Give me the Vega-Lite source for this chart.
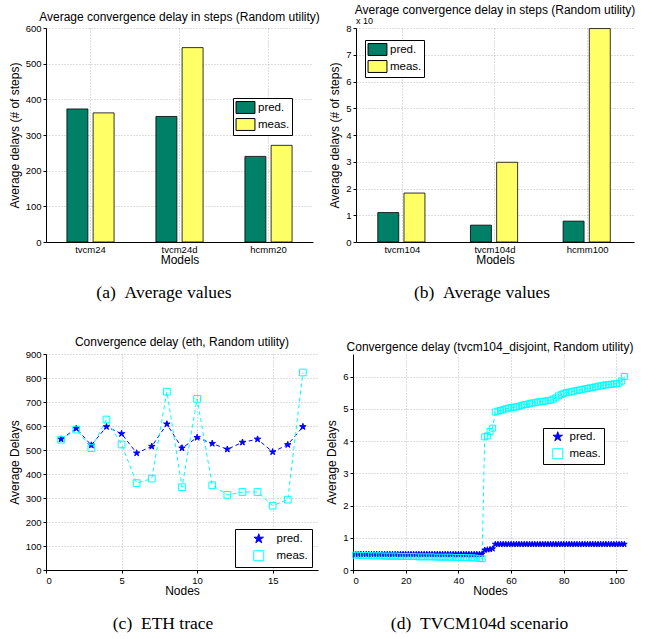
{
"$schema": "https://vega.github.io/schema/vega-lite/v6.json",
"background": "white",
"padding": {"left": 8, "top": 4, "right": 4, "bottom": 2},
"config": {
  "font": "Liberation Sans",
  "view": {"stroke": null},
  "axis": {"labelFont": "Liberation Sans", "labelFontSize": 9.5, "labelColor": "black", "titleFont": "Liberation Sans", "titleFontSize": 12, "titleFontWeight": "normal", "titleColor": "black", "domainColor": "black", "domainWidth": 1, "tickColor": "black", "tickSize": 3, "gridColor": "#a0a0a0", "gridDash": [1, 2], "gridWidth": 0.7, "labelPadding": 2, "titlePadding": 1, "labelOverlap": false},
  "axisY": {"titlePadding": 4},
  "title": {"font": "Liberation Sans", "fontSize": 12, "fontWeight": "normal", "color": "black"},
  "legend": {"orient": "none", "strokeColor": "black", "fillColor": "white", "padding": 3, "labelFont": "Liberation Sans", "labelFontSize": 11.5, "labelColor": "black", "rowPadding": 1, "symbolStrokeWidth": 1}
},
"resolve": {"scale": {"fill": "independent", "stroke": "independent", "shape": "independent", "color": "independent"}, "legend": {"fill": "independent", "stroke": "independent", "shape": "independent", "color": "independent"}},
"spacing": 35,
"vconcat": [
  {"resolve": {"scale": {"fill": "independent", "stroke": "independent", "shape": "independent", "color": "independent"}, "legend": {"fill": "independent", "stroke": "independent", "shape": "independent", "color": "independent"}},
   "hconcat": [
    {"title": {"text": "(a)\u00a0\u00a0Average values", "orient": "bottom", "font": "Liberation Serif", "fontSize": 17.5, "offset": 18, "anchor": "middle"},
     "vconcat": [{
      "width": 267, "height": 214,
      "title": {"text": "Average convergence delay in steps (Random utility)", "offset": 7, "dy": 8},
      "data": {"values": [
        {"model": "tvcm24", "series": "pred", "value": 373},
        {"model": "tvcm24", "series": "meas", "value": 362},
        {"model": "tvcm24d", "series": "pred", "value": 352},
        {"model": "tvcm24d", "series": "meas", "value": 545},
        {"model": "hcmm20", "series": "pred", "value": 240},
        {"model": "hcmm20", "series": "meas", "value": 271}
      ]},
      "mark": {"type": "bar", "stroke": "black", "strokeWidth": 0.8},
      "encoding": {
        "x": {"field": "model", "type": "nominal", "sort": ["tvcm24", "tvcm24d", "hcmm20"], "scale": {"paddingInner": 0.47, "paddingOuter": 0.235}, "axis": {"title": "Models", "labelAngle": 0, "grid": true, "bandPosition": 0.5, "ticks": false}},
        "xOffset": {"field": "series", "type": "nominal", "sort": ["pred", "meas"], "scale": {"paddingInner": 0.2}},
        "y": {"field": "value", "type": "quantitative", "scale": {"domain": [0, 600]}, "axis": {"title": "Average delays (# of steps)", "values": [0, 100, 200, 300, 400, 500, 600]}},
        "fill": {"field": "series", "type": "nominal", "scale": {"domain": ["pred", "meas"], "range": ["#008066", "#FFFF66"]}, "legend": {"title": null, "legendX": 187, "legendY": 70, "symbolType": "M-1.35,-0.85H1.35V0.85H-1.35Z", "symbolSize": 196, "symbolStrokeColor": "black", "rowPadding": 0, "padding": 2, "symbolOffset": 3, "labelOffset": 5, "labelExpr": "datum.label + '.'"}}
      }
     }]
    },
    {"title": {"text": "(b)\u00a0\u00a0Average values", "orient": "bottom", "font": "Liberation Serif", "fontSize": 17.5, "offset": 18, "anchor": "middle"},
     "vconcat": [{
      "width": 278, "height": 214,
      "title": {"text": "Average convergence delay in steps (Random utility)", "offset": 0},
      "resolve": {"scale": {"x": "independent"}},
      "layer": [
        {"data": {"values": [
          {"model": "tvcm104", "series": "pred", "value": 1.1},
          {"model": "tvcm104", "series": "meas", "value": 1.83},
          {"model": "tvcm104d", "series": "pred", "value": 0.63},
          {"model": "tvcm104d", "series": "meas", "value": 2.98},
          {"model": "hcmm100", "series": "pred", "value": 0.78},
          {"model": "hcmm100", "series": "meas", "value": 7.98}
        ]},
        "mark": {"type": "bar", "stroke": "black", "strokeWidth": 0.8},
        "encoding": {
          "x": {"field": "model", "type": "nominal", "sort": ["tvcm104", "tvcm104d", "hcmm100"], "scale": {"paddingInner": 0.47, "paddingOuter": 0.235}, "axis": {"title": "Models", "labelAngle": 0, "grid": true, "bandPosition": 0.5, "ticks": false}},
          "xOffset": {"field": "series", "type": "nominal", "sort": ["pred", "meas"], "scale": {"paddingInner": 0.2}},
          "y": {"field": "value", "type": "quantitative", "scale": {"domain": [0, 8]}, "axis": {"title": "Average delays (# of steps)", "values": [0, 1, 2, 3, 4, 5, 6, 7, 8]}},
          "fill": {"field": "series", "type": "nominal", "scale": {"domain": ["pred", "meas"], "range": ["#008066", "#FFFF66"]}, "legend": {"title": null, "legendX": 9, "legendY": 12, "symbolType": "M-1.35,-0.85H1.35V0.85H-1.35Z", "symbolSize": 196, "symbolStrokeColor": "black", "rowPadding": 0, "padding": 2, "symbolOffset": 3, "labelOffset": 5, "labelExpr": "datum.label + '.'"}}
        }},
        {"data": {"values": [{"t": "x 10"}]},
         "mark": {"type": "text", "align": "left", "baseline": "bottom", "fontSize": 9, "dy": -2},
         "encoding": {
           "x": {"datum": 0, "type": "quantitative", "scale": {"domain": [0, 1]}, "axis": null},
           "y": {"datum": 8, "type": "quantitative", "axis": {"title": "Average delays (# of steps)", "values": [0, 1, 2, 3, 4, 5, 6, 7, 8]}},
           "text": {"field": "t"}
         }}
      ]
     }]
    }
  ], "spacing": 8},
  {"resolve": {"scale": {"fill": "independent", "stroke": "independent", "shape": "independent", "color": "independent"}, "legend": {"fill": "independent", "stroke": "independent", "shape": "independent", "color": "independent"}},
   "hconcat": [
    {"title": {"text": "(c)\u00a0\u00a0ETH trace", "orient": "bottom", "font": "Liberation Serif", "fontSize": 17.5, "offset": 18, "anchor": "middle", "frame": "bounds"},
     "vconcat": [{
      "width": 272, "height": 216,
      "title": {"text": "Convergence delay (eth, Random utility)", "offset": 6, "dy": 6},
      "data": {"values": [
        {"n": 1, "pred": 545, "meas": 543},
        {"n": 2, "pred": 590, "meas": 585},
        {"n": 3, "pred": 520, "meas": 508},
        {"n": 4, "pred": 597, "meas": 627},
        {"n": 5, "pred": 568, "meas": 523},
        {"n": 6, "pred": 487, "meas": 362},
        {"n": 7, "pred": 515, "meas": 381},
        {"n": 8, "pred": 608, "meas": 743},
        {"n": 9, "pred": 508, "meas": 345},
        {"n": 10, "pred": 552, "meas": 713},
        {"n": 11, "pred": 527, "meas": 353},
        {"n": 12, "pred": 503, "meas": 313},
        {"n": 13, "pred": 532, "meas": 325},
        {"n": 14, "pred": 545, "meas": 325},
        {"n": 15, "pred": 492, "meas": 268},
        {"n": 16, "pred": 522, "meas": 293},
        {"n": 17, "pred": 597, "meas": 823}
      ]},
      "transform": [{"fold": ["pred", "meas"], "as": ["s", "v"]}],
      "encoding": {
        "x": {"field": "n", "type": "quantitative", "scale": {"domain": [0, 18]}, "axis": {"title": "Nodes", "values": [0, 5, 10, 15], "grid": true}},
        "y": {"field": "v", "type": "quantitative", "scale": {"domain": [0, 900]}, "axis": {"title": "Average Delays", "values": [0, 100, 200, 300, 400, 500, 600, 700, 800, 900]}},
        "color": {"field": "s", "type": "nominal", "scale": {"domain": ["pred", "meas"], "range": ["#0000FF", "#00FFFF"]}, "legend": {"title": null, "legendX": 189, "legendY": 175, "labelExpr": "datum.label + '.'", "symbolOffset": 14, "labelOffset": 12, "padding": 4, "rowPadding": 3, "strokeColor": "black", "fillColor": "white"}}
      },
      "layer": [
        {"mark": {"type": "line", "strokeDash": [4, 3], "strokeWidth": 1}},
        {"mark": {"type": "point", "strokeWidth": 1, "opacity": 1, "filled": false},
         "encoding": {
           "shape": {"field": "s", "type": "nominal", "scale": {"domain": ["pred", "meas"], "range": ["M0,-1L0.225,-0.309L0.951,-0.309L0.363,0.118L0.588,0.809L0,0.382L-0.588,0.809L-0.363,0.118L-0.951,-0.309L-0.225,-0.309Z", "square"]}, "legend": {"title": null, "legendX": 189, "legendY": 175, "labelExpr": "datum.label + '.'", "symbolOffset": 14, "labelOffset": 12, "padding": 4, "rowPadding": 3, "strokeColor": "black", "fillColor": "white"}},
           "fill": {"field": "s", "type": "nominal", "scale": {"domain": ["pred", "meas"], "range": ["#0000FF", "rgba(0,0,0,0)"]}, "legend": {"title": null, "legendX": 189, "legendY": 175, "labelExpr": "datum.label + '.'", "symbolOffset": 14, "labelOffset": 12, "padding": 4, "rowPadding": 3, "strokeColor": "black", "fillColor": "white"}},
           "size": {"value": 45}
         }}
      ]
     }]
    },
    {"title": {"text": "(d)\u00a0\u00a0TVCM104d scenario", "orient": "bottom", "font": "Liberation Serif", "fontSize": 17.5, "offset": 18, "anchor": "middle"},
     "vconcat": [{
      "width": 274, "height": 216,
      "title": {"text": "Convergence delay (tvcm104_disjoint, Random utility)", "offset": 0},
      "data": {"values": [
        {"n": 1, "pred": 0.49, "meas": 0.46}, {"n": 2, "pred": 0.49, "meas": 0.46}, {"n": 3, "pred": 0.49, "meas": 0.45}, {"n": 4, "pred": 0.49, "meas": 0.45},
        {"n": 5, "pred": 0.49, "meas": 0.45}, {"n": 6, "pred": 0.49, "meas": 0.45}, {"n": 7, "pred": 0.49, "meas": 0.44}, {"n": 8, "pred": 0.49, "meas": 0.44},
        {"n": 9, "pred": 0.49, "meas": 0.44}, {"n": 10, "pred": 0.49, "meas": 0.44}, {"n": 11, "pred": 0.49, "meas": 0.44}, {"n": 12, "pred": 0.49, "meas": 0.43},
        {"n": 13, "pred": 0.49, "meas": 0.43}, {"n": 14, "pred": 0.49, "meas": 0.43}, {"n": 15, "pred": 0.49, "meas": 0.43}, {"n": 16, "pred": 0.49, "meas": 0.43},
        {"n": 17, "pred": 0.49, "meas": 0.43}, {"n": 18, "pred": 0.49, "meas": 0.42}, {"n": 19, "pred": 0.49, "meas": 0.42}, {"n": 20, "pred": 0.49, "meas": 0.42},
        {"n": 21, "pred": 0.49, "meas": 0.42}, {"n": 22, "pred": 0.49, "meas": 0.42}, {"n": 23, "pred": 0.49, "meas": 0.42}, {"n": 24, "pred": 0.49, "meas": 0.42},
        {"n": 25, "pred": 0.49, "meas": 0.41}, {"n": 26, "pred": 0.49, "meas": 0.41}, {"n": 27, "pred": 0.49, "meas": 0.41}, {"n": 28, "pred": 0.49, "meas": 0.41},
        {"n": 29, "pred": 0.49, "meas": 0.41}, {"n": 30, "pred": 0.49, "meas": 0.41}, {"n": 31, "pred": 0.49, "meas": 0.41}, {"n": 32, "pred": 0.49, "meas": 0.40},
        {"n": 33, "pred": 0.49, "meas": 0.40}, {"n": 34, "pred": 0.49, "meas": 0.40}, {"n": 35, "pred": 0.49, "meas": 0.40}, {"n": 36, "pred": 0.49, "meas": 0.40},
        {"n": 37, "pred": 0.49, "meas": 0.40}, {"n": 38, "pred": 0.49, "meas": 0.40}, {"n": 39, "pred": 0.49, "meas": 0.39}, {"n": 40, "pred": 0.49, "meas": 0.39},
        {"n": 41, "pred": 0.49, "meas": 0.39}, {"n": 42, "pred": 0.49, "meas": 0.39}, {"n": 43, "pred": 0.49, "meas": 0.39}, {"n": 44, "pred": 0.49, "meas": 0.38},
        {"n": 45, "pred": 0.49, "meas": 0.38}, {"n": 46, "pred": 0.49, "meas": 0.38}, {"n": 47, "pred": 0.49, "meas": 0.37}, {"n": 48, "pred": 0.49, "meas": 0.36},
        {"n": 49, "pred": 0.50, "meas": 0.35}, {"n": 50, "pred": 0.62, "meas": 4.13}, {"n": 51, "pred": 0.63, "meas": 4.16}, {"n": 52, "pred": 0.64, "meas": 4.30},
        {"n": 53, "pred": 0.66, "meas": 4.40}, {"n": 54, "pred": 0.80, "meas": 4.90}, {"n": 55, "pred": 0.80, "meas": 4.93}, {"n": 56, "pred": 0.80, "meas": 4.95},
        {"n": 57, "pred": 0.80, "meas": 4.97}, {"n": 58, "pred": 0.80, "meas": 5.00}, {"n": 59, "pred": 0.80, "meas": 5.02}, {"n": 60, "pred": 0.80, "meas": 5.04},
        {"n": 61, "pred": 0.80, "meas": 5.05}, {"n": 62, "pred": 0.80, "meas": 5.06}, {"n": 63, "pred": 0.80, "meas": 5.08}, {"n": 64, "pred": 0.80, "meas": 5.10},
        {"n": 65, "pred": 0.80, "meas": 5.13}, {"n": 66, "pred": 0.80, "meas": 5.14}, {"n": 67, "pred": 0.80, "meas": 5.16}, {"n": 68, "pred": 0.80, "meas": 5.18},
        {"n": 69, "pred": 0.80, "meas": 5.19}, {"n": 70, "pred": 0.80, "meas": 5.21}, {"n": 71, "pred": 0.80, "meas": 5.22}, {"n": 72, "pred": 0.80, "meas": 5.23},
        {"n": 73, "pred": 0.80, "meas": 5.24}, {"n": 74, "pred": 0.80, "meas": 5.25}, {"n": 75, "pred": 0.80, "meas": 5.27}, {"n": 76, "pred": 0.80, "meas": 5.30},
        {"n": 77, "pred": 0.80, "meas": 5.34}, {"n": 78, "pred": 0.80, "meas": 5.40}, {"n": 79, "pred": 0.80, "meas": 5.44}, {"n": 80, "pred": 0.80, "meas": 5.48},
        {"n": 81, "pred": 0.80, "meas": 5.50}, {"n": 82, "pred": 0.80, "meas": 5.52}, {"n": 83, "pred": 0.80, "meas": 5.53}, {"n": 84, "pred": 0.80, "meas": 5.55},
        {"n": 85, "pred": 0.80, "meas": 5.57}, {"n": 86, "pred": 0.80, "meas": 5.58}, {"n": 87, "pred": 0.80, "meas": 5.60}, {"n": 88, "pred": 0.80, "meas": 5.62},
        {"n": 89, "pred": 0.80, "meas": 5.63}, {"n": 90, "pred": 0.80, "meas": 5.65}, {"n": 91, "pred": 0.80, "meas": 5.66}, {"n": 92, "pred": 0.80, "meas": 5.68},
        {"n": 93, "pred": 0.80, "meas": 5.70}, {"n": 94, "pred": 0.80, "meas": 5.71}, {"n": 95, "pred": 0.80, "meas": 5.73}, {"n": 96, "pred": 0.80, "meas": 5.74},
        {"n": 97, "pred": 0.80, "meas": 5.75}, {"n": 98, "pred": 0.80, "meas": 5.76}, {"n": 99, "pred": 0.80, "meas": 5.77}, {"n": 100, "pred": 0.80, "meas": 5.78},
        {"n": 101, "pred": 0.80, "meas": 5.80}, {"n": 102, "pred": 0.80, "meas": 5.86}, {"n": 103, "pred": 0.80, "meas": 6.00}
      ]},
      "transform": [{"fold": ["pred", "meas"], "as": ["s", "v"]}],
      "encoding": {
        "x": {"field": "n", "type": "quantitative", "scale": {"domain": [0, 104]}, "axis": {"title": "Nodes", "values": [0, 20, 40, 60, 80, 100], "grid": true}},
        "y": {"field": "v", "type": "quantitative", "scale": {"domain": [0, 6.7]}, "axis": {"title": "Average Delays", "values": [0, 1, 2, 3, 4, 5, 6]}}
      },
      "layer": [
        {"mark": {"type": "line", "strokeDash": [4, 3], "strokeWidth": 1},
         "encoding": {"color": {"field": "s", "type": "nominal", "scale": {"domain": ["pred", "meas"], "range": ["#0000FF", "#00FFFF"]}, "legend": {"title": null, "legendX": 190, "legendY": 74, "labelExpr": "datum.label + '.'", "symbolOffset": 6, "labelOffset": 6, "padding": 3, "rowPadding": 3, "strokeColor": "black", "fillColor": "white"}}}},
        {"mark": {"type": "point", "strokeWidth": 1, "opacity": 1, "filled": false},
         "encoding": {
           "color": {"field": "s", "type": "nominal", "scale": {"domain": ["pred", "meas"], "range": ["#0000FF", "#00FFFF"]}, "legend": {"title": null, "legendX": 190, "legendY": 74, "labelExpr": "datum.label + '.'", "symbolOffset": 6, "labelOffset": 6, "padding": 3, "rowPadding": 3, "strokeColor": "black", "fillColor": "white"}},
           "shape": {"field": "s", "type": "nominal", "scale": {"domain": ["pred", "meas"], "range": ["M0,-1L0.225,-0.309L0.951,-0.309L0.363,0.118L0.588,0.809L0,0.382L-0.588,0.809L-0.363,0.118L-0.951,-0.309L-0.225,-0.309Z", "square"]}, "legend": {"title": null, "legendX": 190, "legendY": 74, "labelExpr": "datum.label + '.'", "symbolOffset": 6, "labelOffset": 6, "padding": 3, "rowPadding": 3, "strokeColor": "black", "fillColor": "white"}},
           "fill": {"field": "s", "type": "nominal", "scale": {"domain": ["pred", "meas"], "range": ["#0000FF", "rgba(0,0,0,0)"]}, "legend": {"title": null, "legendX": 190, "legendY": 74, "labelExpr": "datum.label + '.'", "symbolOffset": 6, "labelOffset": 6, "padding": 3, "rowPadding": 3, "strokeColor": "black", "fillColor": "white"}},
           "size": {"value": 36}
         }},
        {"data": {"values": [{"t": "x 10"}]},
         "mark": {"type": "text", "align": "left", "baseline": "bottom", "fontSize": 9, "dy": -1},
         "encoding": {"x": {"datum": 0}, "y": {"datum": 6.7}, "text": {"field": "t"}}}
      ]
     }]
    }
  ], "spacing": 7}
]
}
